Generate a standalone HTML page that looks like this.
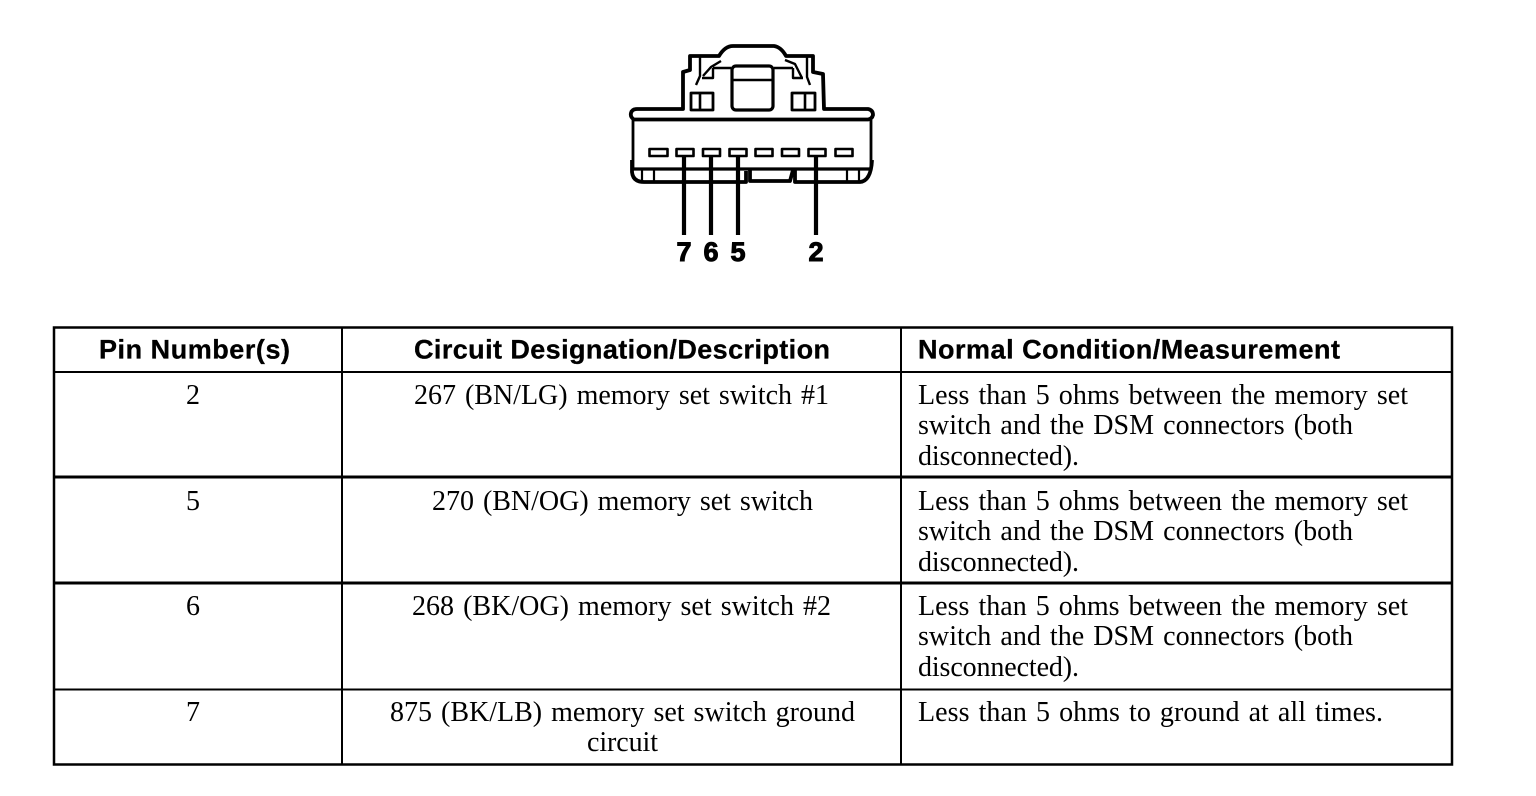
<!DOCTYPE html>
<html><head><meta charset="utf-8">
<style>
html,body{margin:0;padding:0;background:#fff;width:1536px;height:796px;overflow:hidden}
svg{display:block}
.s{font-family:"Liberation Serif",serif;font-size:28px;word-spacing:2px;fill:#000}
.b{font-family:"Liberation Sans",sans-serif;font-size:27px;font-weight:bold;fill:#000;stroke:#000;stroke-width:.3px}
.n{font-family:"Liberation Sans",sans-serif;font-size:27px;font-weight:bold;fill:#000;stroke:#000;stroke-width:1px;text-anchor:middle}
.m{text-anchor:middle}
</style></head><body>
<svg width="1536" height="796" viewBox="0 0 1536 796" xmlns="http://www.w3.org/2000/svg">
<rect width="1536" height="796" fill="#fff"/>
<g fill="none" stroke="#000" stroke-width="3" stroke-linejoin="round">
<path stroke-width="3.8" d="M634 119.5Q630 117 631 113Q632 109 637 109L683 109L683 72L690 70L690 56L719 56Q725 46 733 46L774 46Q781 47 786 56L813 56L813 72L823 74L824 109L868 109Q873 110 873 115Q872 119 868 119.5Z"/>
<path stroke-width="2.8" d="M633 120V168M871 120V168"/>
<path stroke-width="3.8" d="M632 160V172Q633 182 644 182L746 182V171M750 170V181L790 181L793 170M795 170V182L860 182Q871 181 872 160"/>
<path stroke-width="3.2" d="M633 169H871"/>
<path stroke-width="2.2" d="M642 170V181M654 170V181M847 170V181M859 170V181"/>
<rect x="732" y="66" width="41" height="44" rx="4" stroke-width="3.2"/>
<path stroke-width="2.6" d="M732 80H773"/>
<rect x="691" y="93" width="22" height="17" stroke-width="2.8"/>
<rect x="792" y="93" width="23" height="17" stroke-width="2.8"/>
<path stroke-width="2.6" d="M700 93V110M805 93V110"/>
<path stroke-width="2.4" d="M700 57V76L696 85M703 76L711 67L721 61M713 68H731M713 68V78H702M807 57V77L810 85M802 78L795 64L785 60M793 68H774M793 68V78H803"/>
<g stroke-width="2.6" fill="#fff">
<rect x="649.5" y="149" width="18" height="7"/>
<rect x="676.5" y="149" width="17" height="7"/>
<rect x="703" y="149" width="17" height="7"/>
<rect x="729.5" y="149" width="17" height="7"/>
<rect x="755.5" y="149" width="17" height="7"/>
<rect x="782" y="149" width="17" height="7"/>
<rect x="808.5" y="149" width="17" height="7"/>
<rect x="835.5" y="149" width="17" height="7"/>
</g>
<path stroke-width="4.2" d="M684 156V235M711 156V235M738 156V235M816 156V235"/>
</g>
<text class="n" x="684" y="261">7</text>
<text class="n" x="711" y="261">6</text>
<text class="n" x="738" y="261">5</text>
<text class="n" x="816" y="261">2</text>
<g stroke="#000" fill="none">
<rect x="54" y="327.5" width="1398" height="437" stroke-width="2.5"/>
<path stroke-width="2" d="M342 327V764M901 327V764M54 372H1452M54 689.5H1452"/>
<path stroke-width="3" d="M54 477H1452M54 583H1452"/>
</g>
<text class="b" x="99" y="358.5" textLength="191">Pin Number(s)</text>
<text class="b" x="414" y="358.5" textLength="416">Circuit Designation/Description</text>
<text class="b" x="918" y="358.5" textLength="422">Normal Condition/Measurement</text>

<text class="s m" x="193" y="404">2</text>
<text class="s" x="414" y="404" textLength="415">267 (BN/LG) memory set switch #1</text>
<text class="s" x="918" y="404" textLength="490">Less than 5 ohms between the memory set</text>
<text class="s" x="918" y="434" textLength="435">switch and the DSM connectors (both</text>
<text class="s" x="918" y="465" textLength="161">disconnected).</text>

<text class="s m" x="193" y="510">5</text>
<text class="s" x="432" y="510" textLength="381">270 (BN/OG) memory set switch</text>
<text class="s" x="918" y="510" textLength="490">Less than 5 ohms between the memory set</text>
<text class="s" x="918" y="540" textLength="435">switch and the DSM connectors (both</text>
<text class="s" x="918" y="571" textLength="161">disconnected).</text>

<text class="s m" x="193" y="615">6</text>
<text class="s" x="412" y="615" textLength="419">268 (BK/OG) memory set switch #2</text>
<text class="s" x="918" y="615" textLength="490">Less than 5 ohms between the memory set</text>
<text class="s" x="918" y="645" textLength="435">switch and the DSM connectors (both</text>
<text class="s" x="918" y="676" textLength="161">disconnected).</text>

<text class="s m" x="193" y="721">7</text>
<text class="s" x="390" y="721" textLength="465">875 (BK/LB) memory set switch ground</text>
<text class="s" x="587" y="751" textLength="71">circuit</text>
<text class="s" x="918" y="721" textLength="465">Less than 5 ohms to ground at all times.</text>
</svg>
</body></html>
